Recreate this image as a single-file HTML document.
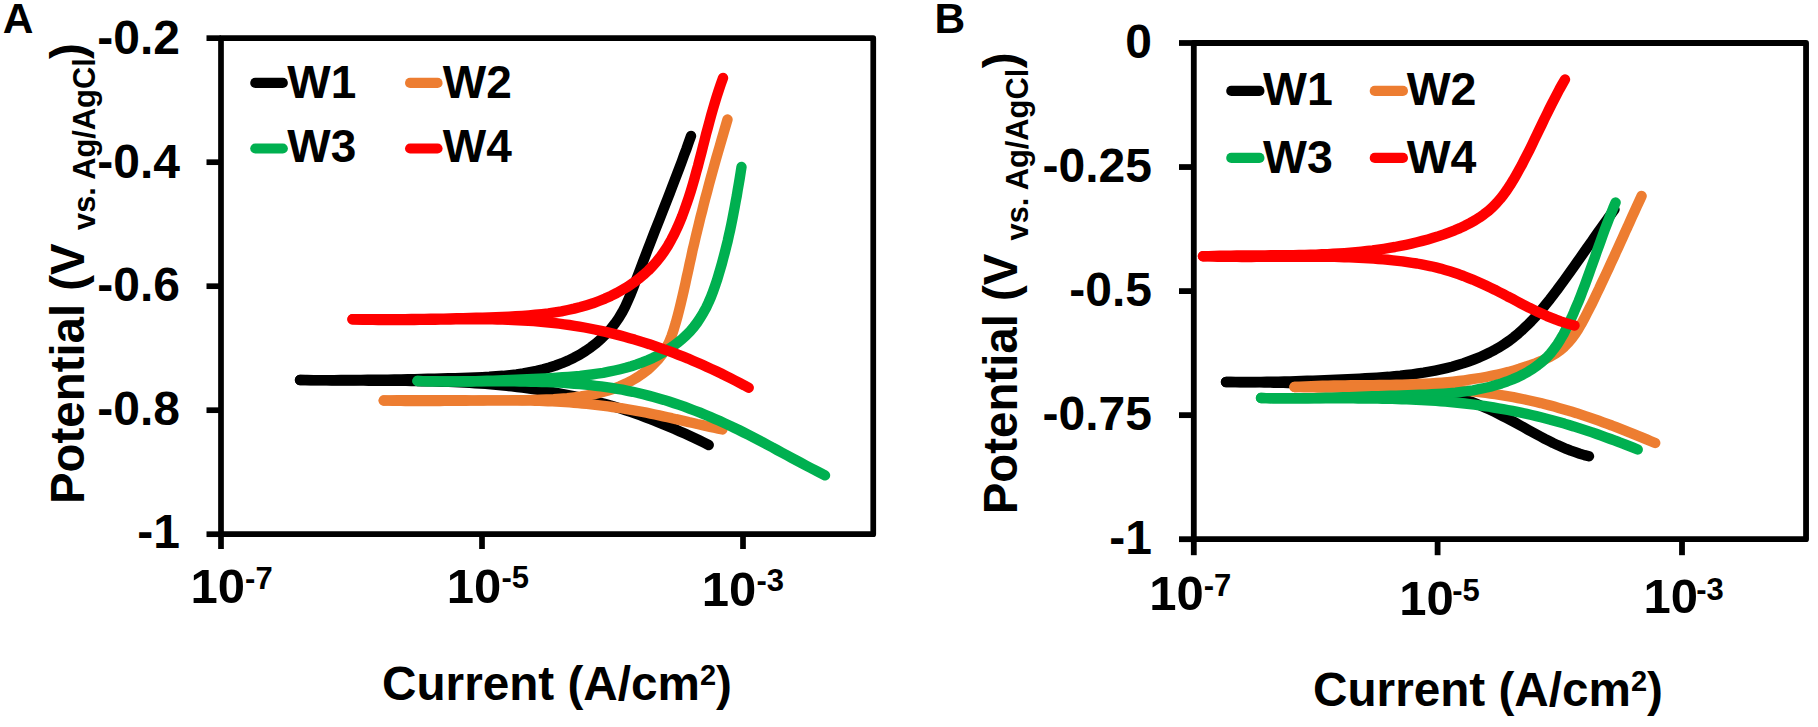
<!DOCTYPE html>
<html><head><meta charset="utf-8"><title>Potentiodynamic polarization curves</title>
<style>
html,body{margin:0;padding:0;background:#fff;}
body{width:1818px;height:727px;overflow:hidden;}
svg{display:block;}
svg text{font-family:"Liberation Sans",sans-serif;font-weight:bold;fill:#000;}
</style></head><body>
<svg width="1818" height="727" viewBox="0 0 1818 727">
<rect x="0" y="0" width="1818" height="727" fill="#ffffff"/>
<g id="panelA">
<rect x="221.00" y="38.15" width="652.25" height="496.05" fill="none" stroke="#000" stroke-width="5.70" stroke-linejoin="round"/>
<line x1="206.50" y1="38.15" x2="221.00" y2="38.15" stroke="#000" stroke-width="5.70"/>
<line x1="206.50" y1="162.20" x2="221.00" y2="162.20" stroke="#000" stroke-width="5.70"/>
<line x1="206.50" y1="286.20" x2="221.00" y2="286.20" stroke="#000" stroke-width="5.70"/>
<line x1="206.50" y1="410.20" x2="221.00" y2="410.20" stroke="#000" stroke-width="5.70"/>
<line x1="206.50" y1="534.20" x2="221.00" y2="534.20" stroke="#000" stroke-width="5.70"/>
<line x1="221.00" y1="534.20" x2="221.00" y2="549.00" stroke="#000" stroke-width="5.70"/>
<line x1="482.00" y1="534.20" x2="482.00" y2="549.00" stroke="#000" stroke-width="5.70"/>
<line x1="743.00" y1="534.20" x2="743.00" y2="549.00" stroke="#000" stroke-width="5.70"/>
<text x="180.00" y="54.20" font-size="48.00" text-anchor="end" >-0.2</text>
<text x="180.00" y="177.70" font-size="48.00" text-anchor="end" >-0.4</text>
<text x="180.00" y="301.20" font-size="48.00" text-anchor="end" >-0.6</text>
<text x="180.00" y="424.80" font-size="48.00" text-anchor="end" >-0.8</text>
<text x="180.00" y="548.30" font-size="48.00" text-anchor="end" >-1</text>
<text x="190.60" y="603.00" font-size="49.00">10<tspan x="245.10" y="588.70" font-size="31.00">-7</tspan></text>
<text x="446.70" y="602.50" font-size="49.00">10<tspan x="501.50" y="587.50" font-size="31.00">-5</tspan></text>
<text x="701.70" y="605.50" font-size="49.00">10<tspan x="756.50" y="591.00" font-size="31.00">-3</tspan></text>
<path d="M300.0 380.0 L306.9 380.0 L313.7 380.1 L320.6 380.1 L327.3 380.1 L334.1 380.1 L340.9 380.0 L347.6 380.0 L354.3 380.0 L361.0 379.9 L367.7 379.8 L374.4 379.8 L381.1 379.7 L387.8 379.6 L394.4 379.5 L401.1 379.4 L407.8 379.2 L414.5 379.1 L421.2 378.9 L427.9 378.8 L434.7 378.6 L441.4 378.5 L448.2 378.3 L455.0 378.1 L461.8 377.9 L468.7 377.7 L475.5 377.4 L482.4 377.1 L489.3 376.8 L496.1 376.3 L503.0 375.8 L509.8 375.1 L516.5 374.3 L523.2 373.3 L529.9 372.1 L536.5 370.8 L543.0 369.3 L549.4 367.5 L555.7 365.5 L561.9 363.2 L568.0 360.6 L574.0 357.7 L579.8 354.6 L585.5 351.0 L591.0 347.2 L596.3 343.1 L601.4 338.6 L606.2 333.9 L610.7 328.9 L614.9 323.6 L618.7 318.1 L622.2 312.3 L625.3 306.3 L628.1 300.1 L630.8 293.9 L633.3 287.5 L635.7 281.2 L638.1 274.9 L640.5 268.5 L642.9 262.2 L645.3 255.9 L647.7 249.5 L650.2 243.2 L652.6 236.9 L655.0 230.7 L657.5 224.4 L660.0 218.1 L662.4 211.8 L664.9 205.5 L667.3 199.3 L669.8 193.0 L672.2 186.7 L674.6 180.4 L677.0 174.1 L679.4 167.8 L681.8 161.5 L684.1 155.1 L686.5 148.8 L688.7 142.4 L691.0 136.0" fill="none" stroke="#000000" stroke-width="10.4" stroke-linecap="round" stroke-linejoin="round"/>
<path d="M300.0 380.0 L305.3 380.1 L310.6 380.2 L315.8 380.3 L321.1 380.4 L326.4 380.4 L331.7 380.5 L337.0 380.5 L342.3 380.5 L347.6 380.6 L352.9 380.6 L358.2 380.6 L363.5 380.6 L368.8 380.7 L374.1 380.7 L379.4 380.7 L384.8 380.7 L390.1 380.8 L395.4 380.8 L400.7 380.8 L406.0 380.9 L411.3 381.0 L416.6 381.1 L421.9 381.2 L427.3 381.3 L432.6 381.4 L437.9 381.5 L443.2 381.7 L448.5 381.9 L453.8 382.1 L459.1 382.3 L464.4 382.6 L469.7 382.9 L475.0 383.2 L480.3 383.6 L485.6 383.9 L490.8 384.4 L496.1 384.8 L501.4 385.3 L506.7 385.8 L511.9 386.4 L517.2 387.0 L522.4 387.6 L527.7 388.3 L532.9 389.0 L538.2 389.8 L543.4 390.6 L548.6 391.4 L553.8 392.3 L559.0 393.3 L564.2 394.3 L569.4 395.3 L574.6 396.4 L579.8 397.6 L584.9 398.8 L590.0 400.0 L595.2 401.3 L600.3 402.7 L605.4 404.1 L610.5 405.5 L615.5 407.0 L620.6 408.6 L625.6 410.2 L630.6 411.9 L635.6 413.7 L640.6 415.4 L645.6 417.3 L650.5 419.2 L655.5 421.1 L660.4 423.1 L665.3 425.1 L670.2 427.1 L675.1 429.2 L679.9 431.4 L684.8 433.6 L689.6 435.8 L694.4 438.0 L699.2 440.3 L704.0 442.7 L708.7 445.0" fill="none" stroke="#000000" stroke-width="10.4" stroke-linecap="round" stroke-linejoin="round"/>
<path d="M383.7 400.5 L390.7 400.4 L397.5 400.3 L404.4 400.2 L411.2 400.1 L418.0 400.1 L424.8 400.1 L431.6 400.1 L438.3 400.1 L445.0 400.2 L451.7 400.2 L458.5 400.3 L465.2 400.3 L471.9 400.4 L478.6 400.4 L485.3 400.4 L492.0 400.4 L498.8 400.4 L505.6 400.4 L512.3 400.3 L519.1 400.2 L526.0 400.1 L532.8 399.9 L539.7 399.7 L546.6 399.4 L553.5 399.1 L560.4 398.6 L567.3 398.1 L574.1 397.3 L580.9 396.4 L587.6 395.3 L594.3 394.1 L600.8 392.5 L607.3 390.7 L613.6 388.7 L619.8 386.3 L625.8 383.6 L631.7 380.6 L637.4 377.2 L642.9 373.5 L648.2 369.3 L653.2 364.7 L658.0 359.7 L662.3 354.3 L665.9 348.5 L669.0 342.5 L671.5 336.2 L673.6 329.8 L675.6 323.3 L677.4 316.8 L679.1 310.3 L680.7 303.7 L682.3 297.1 L683.8 290.5 L685.3 283.8 L686.7 277.2 L688.2 270.6 L689.6 263.9 L691.1 257.3 L692.5 250.6 L694.1 244.0 L695.6 237.4 L697.2 230.8 L698.8 224.2 L700.4 217.6 L702.1 211.1 L703.7 204.5 L705.4 197.9 L707.2 191.3 L708.9 184.8 L710.7 178.2 L712.5 171.7 L714.3 165.2 L716.1 158.6 L718.0 152.1 L719.9 145.6 L721.8 139.0 L723.7 132.5 L725.6 126.0 L727.5 119.5" fill="none" stroke="#ED7D31" stroke-width="10.4" stroke-linecap="round" stroke-linejoin="round"/>
<path d="M383.8 400.5 L388.1 400.6 L392.4 400.7 L396.7 400.8 L401.0 400.9 L405.3 401.0 L409.6 401.0 L414.0 401.0 L418.3 401.1 L422.6 401.1 L426.9 401.1 L431.2 401.0 L435.6 401.0 L439.9 401.0 L444.2 400.9 L448.6 400.9 L452.9 400.8 L457.2 400.8 L461.5 400.7 L465.9 400.7 L470.2 400.6 L474.5 400.6 L478.9 400.5 L483.2 400.5 L487.5 400.4 L491.8 400.4 L496.2 400.4 L500.5 400.4 L504.8 400.4 L509.2 400.4 L513.5 400.4 L517.8 400.4 L522.1 400.5 L526.4 400.5 L530.8 400.6 L535.1 400.7 L539.4 400.9 L543.7 401.0 L548.0 401.2 L552.3 401.4 L556.7 401.6 L561.0 401.8 L565.3 402.1 L569.6 402.4 L573.9 402.7 L578.2 403.1 L582.5 403.5 L586.7 403.9 L591.0 404.3 L595.3 404.8 L599.6 405.3 L603.9 405.8 L608.2 406.4 L612.4 407.0 L616.7 407.6 L621.0 408.2 L625.2 408.9 L629.5 409.6 L633.8 410.3 L638.0 411.1 L642.3 411.9 L646.5 412.7 L650.7 413.6 L655.0 414.5 L659.2 415.4 L663.4 416.3 L667.7 417.3 L671.9 418.2 L676.1 419.2 L680.3 420.1 L684.6 421.1 L688.8 422.1 L693.0 423.0 L697.2 424.0 L701.4 424.9 L705.6 425.9 L709.9 426.8 L714.1 427.7 L718.3 428.6 L722.5 429.5" fill="none" stroke="#ED7D31" stroke-width="10.4" stroke-linecap="round" stroke-linejoin="round"/>
<path d="M417.5 381.0 L423.4 381.1 L429.3 381.3 L435.1 381.3 L440.9 381.4 L446.7 381.4 L452.5 381.4 L458.3 381.4 L464.1 381.3 L469.9 381.2 L475.6 381.1 L481.4 381.0 L487.1 380.8 L492.9 380.7 L498.6 380.5 L504.4 380.3 L510.1 380.0 L515.9 379.8 L521.7 379.5 L527.5 379.3 L533.3 379.0 L539.1 378.7 L544.9 378.4 L550.8 378.1 L556.6 377.7 L562.5 377.3 L568.3 376.9 L574.2 376.4 L580.0 375.9 L585.8 375.2 L591.7 374.5 L597.4 373.7 L603.2 372.8 L608.9 371.7 L614.6 370.5 L620.2 369.2 L625.8 367.8 L631.3 366.2 L636.8 364.4 L642.2 362.4 L647.6 360.2 L652.8 357.9 L658.0 355.3 L663.1 352.5 L668.0 349.6 L672.8 346.4 L677.4 342.9 L681.9 339.3 L686.1 335.4 L690.1 331.3 L693.8 327.0 L697.2 322.5 L700.4 317.7 L703.3 312.8 L706.1 307.7 L708.6 302.4 L710.9 297.1 L713.0 291.6 L715.0 286.0 L716.9 280.4 L718.6 274.8 L720.3 269.1 L721.9 263.5 L723.4 257.8 L724.9 252.2 L726.3 246.6 L727.7 240.9 L728.9 235.3 L730.2 229.7 L731.4 224.0 L732.5 218.4 L733.6 212.7 L734.7 207.1 L735.7 201.4 L736.8 195.7 L737.7 190.0 L738.7 184.3 L739.7 178.5 L740.6 172.8 L741.5 167.0" fill="none" stroke="#00B050" stroke-width="10.4" stroke-linecap="round" stroke-linejoin="round"/>
<path d="M417.5 381.0 L422.8 381.1 L428.2 381.3 L433.5 381.3 L438.9 381.4 L444.2 381.5 L449.6 381.5 L455.0 381.5 L460.4 381.5 L465.8 381.5 L471.2 381.5 L476.6 381.4 L482.0 381.4 L487.5 381.4 L492.9 381.4 L498.3 381.4 L503.8 381.4 L509.2 381.4 L514.6 381.4 L520.1 381.5 L525.5 381.6 L531.0 381.7 L536.4 381.8 L541.8 382.0 L547.2 382.1 L552.7 382.4 L558.1 382.6 L563.5 382.9 L568.9 383.3 L574.3 383.7 L579.7 384.1 L585.0 384.6 L590.4 385.1 L595.8 385.8 L601.1 386.4 L606.4 387.2 L611.7 387.9 L617.0 388.8 L622.3 389.7 L627.6 390.8 L632.8 391.8 L638.1 393.0 L643.3 394.3 L648.5 395.6 L653.7 397.0 L658.8 398.4 L664.0 399.9 L669.1 401.5 L674.2 403.2 L679.3 404.9 L684.4 406.7 L689.4 408.6 L694.4 410.5 L699.5 412.4 L704.5 414.5 L709.4 416.5 L714.4 418.7 L719.3 420.8 L724.3 423.1 L729.2 425.4 L734.1 427.7 L738.9 430.0 L743.8 432.5 L748.6 434.9 L753.4 437.4 L758.2 439.9 L763.0 442.4 L767.8 445.0 L772.6 447.5 L777.3 450.1 L782.1 452.7 L786.9 455.3 L791.6 457.8 L796.4 460.4 L801.1 462.9 L805.9 465.5 L810.7 468.0 L815.4 470.4 L820.2 472.9 L825.0 475.3" fill="none" stroke="#00B050" stroke-width="10.4" stroke-linecap="round" stroke-linejoin="round"/>
<path d="M352.5 319.3 L359.1 319.3 L365.7 319.3 L372.3 319.3 L378.8 319.2 L385.4 319.2 L391.9 319.2 L398.4 319.1 L404.9 319.1 L411.4 319.0 L417.8 319.0 L424.3 318.9 L430.8 318.8 L437.2 318.7 L443.7 318.6 L450.2 318.4 L456.7 318.3 L463.2 318.1 L469.7 318.0 L476.2 317.8 L482.7 317.6 L489.3 317.4 L495.8 317.2 L502.4 316.9 L509.0 316.6 L515.6 316.3 L522.2 315.9 L528.8 315.4 L535.3 314.8 L541.9 314.1 L548.4 313.3 L554.9 312.3 L561.4 311.3 L567.8 310.0 L574.1 308.6 L580.4 307.0 L586.7 305.2 L592.9 303.3 L599.0 301.0 L605.0 298.6 L610.9 295.9 L616.7 293.0 L622.4 289.8 L628.0 286.5 L633.3 282.8 L638.5 278.9 L643.5 274.8 L648.3 270.5 L652.8 265.9 L657.0 261.1 L661.0 256.1 L664.7 250.8 L668.1 245.4 L671.3 239.7 L674.3 234.0 L677.1 228.1 L679.7 222.1 L682.2 216.0 L684.5 209.8 L686.7 203.6 L688.8 197.4 L690.8 191.1 L692.7 184.8 L694.5 178.5 L696.2 172.2 L698.0 165.8 L699.6 159.5 L701.3 153.2 L702.9 146.8 L704.5 140.5 L706.1 134.1 L707.8 127.8 L709.5 121.5 L711.2 115.2 L713.0 108.9 L714.8 102.7 L716.7 96.5 L718.7 90.3 L720.8 84.1 L723.0 78.0" fill="none" stroke="#FF0000" stroke-width="10.4" stroke-linecap="round" stroke-linejoin="round"/>
<path d="M352.5 319.3 L357.6 319.5 L362.8 319.7 L367.9 319.8 L373.0 319.9 L378.2 320.0 L383.3 320.1 L388.5 320.1 L393.7 320.1 L398.8 320.1 L404.0 320.1 L409.2 320.0 L414.4 320.0 L419.5 319.9 L424.7 319.8 L429.9 319.8 L435.1 319.7 L440.3 319.6 L445.5 319.5 L450.7 319.5 L455.9 319.4 L461.1 319.4 L466.2 319.3 L471.4 319.3 L476.6 319.3 L481.8 319.3 L487.0 319.4 L492.2 319.4 L497.3 319.5 L502.5 319.6 L507.7 319.8 L512.9 320.0 L518.0 320.2 L523.2 320.5 L528.3 320.8 L533.5 321.1 L538.6 321.5 L543.7 322.0 L548.9 322.5 L554.0 323.0 L559.1 323.6 L564.2 324.3 L569.3 325.0 L574.4 325.8 L579.4 326.6 L584.5 327.5 L589.6 328.5 L594.6 329.5 L599.7 330.6 L604.7 331.7 L609.7 332.9 L614.7 334.1 L619.7 335.4 L624.7 336.8 L629.6 338.2 L634.6 339.6 L639.5 341.1 L644.4 342.6 L649.4 344.2 L654.3 345.9 L659.1 347.6 L664.0 349.3 L668.9 351.1 L673.7 352.9 L678.5 354.8 L683.3 356.7 L688.1 358.6 L692.9 360.7 L697.7 362.7 L702.4 364.8 L707.1 366.9 L711.8 369.1 L716.5 371.3 L721.2 373.5 L725.8 375.8 L730.4 378.1 L735.0 380.5 L739.6 382.9 L744.2 385.3 L748.7 387.8" fill="none" stroke="#FF0000" stroke-width="10.4" stroke-linecap="round" stroke-linejoin="round"/>
<line x1="255.30" y1="82.90" x2="282.80" y2="82.90" stroke="#000000" stroke-width="10.20" stroke-linecap="round"/>
<text x="287.30" y="98.20" font-size="46.00" text-anchor="start" >W1</text>
<line x1="410.10" y1="82.90" x2="437.50" y2="82.90" stroke="#ED7D31" stroke-width="10.20" stroke-linecap="round"/>
<text x="442.80" y="98.20" font-size="46.00" text-anchor="start" >W2</text>
<line x1="255.30" y1="148.50" x2="282.80" y2="148.50" stroke="#00B050" stroke-width="10.20" stroke-linecap="round"/>
<text x="287.30" y="162.30" font-size="46.00" text-anchor="start" >W3</text>
<line x1="410.10" y1="148.50" x2="437.50" y2="148.50" stroke="#FF0000" stroke-width="10.20" stroke-linecap="round"/>
<text x="442.80" y="162.30" font-size="46.00" text-anchor="start" >W4</text>
<text x="382.00" y="700.00" font-size="47.70">Current (A/cm<tspan font-size="29.00" dy="-15.50">2</tspan><tspan dy="15.50">)</tspan></text>
<text transform="translate(84.00 0) rotate(-90)" font-size="47.40" xml:space="preserve"><tspan x="-504.00" y="0">Potential (V </tspan><tspan x="-230.00" y="11.20" font-size="30.80">vs. Ag/AgCl</tspan><tspan x="-59.00" y="0">)</tspan></text>
<text x="2.75" y="32.80" font-size="42.50" text-anchor="start" >A</text>
</g>
<g id="panelB">
<rect x="1193.80" y="43.00" width="612.25" height="496.20" fill="none" stroke="#000" stroke-width="5.80" stroke-linejoin="round"/>
<line x1="1179.00" y1="43.00" x2="1193.80" y2="43.00" stroke="#000" stroke-width="5.80"/>
<line x1="1179.00" y1="167.05" x2="1193.80" y2="167.05" stroke="#000" stroke-width="5.80"/>
<line x1="1179.00" y1="291.10" x2="1193.80" y2="291.10" stroke="#000" stroke-width="5.80"/>
<line x1="1179.00" y1="415.15" x2="1193.80" y2="415.15" stroke="#000" stroke-width="5.80"/>
<line x1="1179.00" y1="539.20" x2="1193.80" y2="539.20" stroke="#000" stroke-width="5.80"/>
<line x1="1193.80" y1="539.20" x2="1193.80" y2="555.20" stroke="#000" stroke-width="5.80"/>
<line x1="1437.60" y1="539.20" x2="1437.60" y2="555.20" stroke="#000" stroke-width="5.80"/>
<line x1="1682.00" y1="539.20" x2="1682.00" y2="555.20" stroke="#000" stroke-width="5.80"/>
<text x="1152.00" y="58.10" font-size="48.00" text-anchor="end" >0</text>
<text x="1152.00" y="182.20" font-size="48.00" text-anchor="end" >-0.25</text>
<text x="1152.00" y="306.30" font-size="48.00" text-anchor="end" >-0.5</text>
<text x="1152.00" y="430.30" font-size="48.00" text-anchor="end" >-0.75</text>
<text x="1152.00" y="554.40" font-size="48.00" text-anchor="end" >-1</text>
<text x="1149.20" y="610.20" font-size="49.00">10<tspan x="1203.80" y="596.20" font-size="31.00">-7</tspan></text>
<text x="1399.30" y="615.00" font-size="49.00">10<tspan x="1452.30" y="601.00" font-size="31.00">-5</tspan></text>
<text x="1643.50" y="612.90" font-size="49.00">10<tspan x="1696.20" y="599.50" font-size="31.00">-3</tspan></text>
<path d="M1226.0 382.0 L1231.9 382.0 L1237.8 382.0 L1243.6 382.0 L1249.5 382.0 L1255.3 382.0 L1261.1 381.9 L1266.9 381.8 L1272.7 381.7 L1278.5 381.6 L1284.2 381.5 L1290.0 381.4 L1295.8 381.2 L1301.5 381.0 L1307.3 380.8 L1313.1 380.7 L1318.9 380.4 L1324.6 380.2 L1330.4 380.0 L1336.2 379.7 L1342.0 379.5 L1347.8 379.2 L1353.6 378.9 L1359.5 378.6 L1365.3 378.3 L1371.2 378.0 L1377.0 377.6 L1382.9 377.2 L1388.7 376.8 L1394.6 376.2 L1400.4 375.7 L1406.3 375.0 L1412.1 374.3 L1417.9 373.5 L1423.6 372.7 L1429.4 371.7 L1435.1 370.6 L1440.8 369.4 L1446.4 368.1 L1452.0 366.7 L1457.6 365.1 L1463.1 363.4 L1468.5 361.5 L1473.9 359.5 L1479.3 357.4 L1484.5 355.0 L1489.7 352.5 L1494.8 349.8 L1499.8 347.0 L1504.6 343.9 L1509.4 340.6 L1514.0 337.1 L1518.4 333.4 L1522.7 329.6 L1526.9 325.6 L1531.0 321.5 L1535.0 317.2 L1538.9 312.8 L1542.6 308.4 L1546.3 303.8 L1550.0 299.2 L1553.5 294.6 L1557.1 289.9 L1560.5 285.2 L1564.0 280.5 L1567.4 275.8 L1570.8 271.0 L1574.2 266.3 L1577.5 261.6 L1580.9 256.8 L1584.2 252.1 L1587.5 247.3 L1590.9 242.6 L1594.2 237.8 L1597.5 233.1 L1600.9 228.4 L1604.3 223.6 L1607.6 218.9 L1611.1 214.2 L1614.5 209.5" fill="none" stroke="#000000" stroke-width="10.4" stroke-linecap="round" stroke-linejoin="round"/>
<path d="M1226.0 382.0 L1230.8 382.0 L1235.6 382.1 L1240.4 382.2 L1245.1 382.2 L1249.9 382.3 L1254.7 382.4 L1259.4 382.4 L1264.2 382.5 L1269.0 382.6 L1273.7 382.7 L1278.5 382.8 L1283.3 382.9 L1288.0 383.0 L1292.8 383.1 L1297.6 383.2 L1302.3 383.2 L1307.1 383.3 L1311.9 383.4 L1316.7 383.5 L1321.4 383.6 L1326.2 383.6 L1331.0 383.7 L1335.8 383.8 L1340.6 383.8 L1345.5 383.9 L1350.3 384.0 L1355.1 384.1 L1359.9 384.2 L1364.7 384.3 L1369.5 384.4 L1374.3 384.6 L1379.1 384.8 L1383.9 385.1 L1388.7 385.4 L1393.5 385.7 L1398.3 386.1 L1403.0 386.5 L1407.8 387.0 L1412.5 387.6 L1417.2 388.2 L1421.9 388.9 L1426.6 389.7 L1431.3 390.6 L1435.9 391.5 L1440.6 392.6 L1445.2 393.7 L1449.7 394.9 L1454.3 396.2 L1458.8 397.5 L1463.3 399.0 L1467.8 400.5 L1472.2 402.2 L1476.6 403.9 L1481.0 405.7 L1485.4 407.7 L1489.7 409.6 L1494.0 411.7 L1498.3 413.8 L1502.6 416.0 L1506.8 418.2 L1511.0 420.4 L1515.3 422.7 L1519.5 425.0 L1523.7 427.3 L1527.9 429.7 L1532.1 432.0 L1536.3 434.3 L1540.5 436.5 L1544.8 438.8 L1549.0 440.9 L1553.3 443.1 L1557.6 445.1 L1562.0 447.0 L1566.4 448.9 L1570.8 450.6 L1575.3 452.2 L1579.8 453.7 L1584.4 455.1 L1589.0 456.3" fill="none" stroke="#000000" stroke-width="10.4" stroke-linecap="round" stroke-linejoin="round"/>
<path d="M1294.5 387.0 L1300.1 386.7 L1305.7 386.4 L1311.3 386.2 L1316.9 386.0 L1322.5 385.8 L1328.1 385.7 L1333.8 385.5 L1339.5 385.5 L1345.1 385.4 L1350.8 385.3 L1356.5 385.3 L1362.2 385.2 L1367.9 385.1 L1373.6 385.1 L1379.3 385.0 L1385.0 385.0 L1390.7 384.9 L1396.4 384.7 L1402.1 384.6 L1407.8 384.4 L1413.5 384.2 L1419.2 384.0 L1424.8 383.7 L1430.5 383.4 L1436.2 383.0 L1441.8 382.6 L1447.5 382.1 L1453.1 381.6 L1458.7 381.0 L1464.3 380.3 L1469.9 379.5 L1475.5 378.7 L1481.0 377.8 L1486.6 376.8 L1492.1 375.7 L1497.6 374.5 L1503.1 373.2 L1508.5 371.9 L1513.9 370.4 L1519.3 368.8 L1524.7 367.0 L1530.1 365.2 L1535.4 363.3 L1540.7 361.2 L1545.8 358.9 L1550.9 356.3 L1555.7 353.5 L1560.2 350.3 L1564.4 346.7 L1568.3 342.7 L1571.9 338.4 L1575.2 333.9 L1578.3 329.1 L1581.2 324.2 L1584.0 319.1 L1586.6 314.0 L1589.2 308.9 L1591.8 303.8 L1594.3 298.7 L1596.7 293.6 L1599.2 288.5 L1601.6 283.3 L1604.0 278.2 L1606.4 273.1 L1608.8 268.0 L1611.1 262.9 L1613.5 257.8 L1615.8 252.6 L1618.2 247.5 L1620.5 242.4 L1622.8 237.3 L1625.1 232.1 L1627.5 227.0 L1629.8 221.8 L1632.1 216.7 L1634.5 211.5 L1636.8 206.4 L1639.2 201.2 L1641.6 196.0" fill="none" stroke="#ED7D31" stroke-width="10.4" stroke-linecap="round" stroke-linejoin="round"/>
<path d="M1294.5 387.0 L1299.1 387.1 L1303.8 387.2 L1308.4 387.3 L1313.1 387.4 L1317.7 387.5 L1322.4 387.5 L1327.0 387.6 L1331.7 387.6 L1336.4 387.6 L1341.0 387.6 L1345.7 387.6 L1350.4 387.6 L1355.1 387.6 L1359.8 387.6 L1364.5 387.6 L1369.1 387.6 L1373.8 387.6 L1378.5 387.6 L1383.2 387.6 L1387.9 387.6 L1392.6 387.7 L1397.3 387.7 L1402.0 387.8 L1406.6 387.8 L1411.3 387.9 L1416.0 388.0 L1420.7 388.1 L1425.4 388.3 L1430.0 388.5 L1434.7 388.7 L1439.4 388.9 L1444.0 389.1 L1448.7 389.4 L1453.4 389.7 L1458.0 390.0 L1462.7 390.4 L1467.3 390.8 L1471.9 391.3 L1476.6 391.8 L1481.2 392.3 L1485.8 392.9 L1490.4 393.5 L1495.0 394.1 L1499.6 394.8 L1504.2 395.6 L1508.8 396.4 L1513.4 397.2 L1517.9 398.1 L1522.5 399.0 L1527.1 400.0 L1531.6 401.0 L1536.1 402.0 L1540.7 403.1 L1545.2 404.3 L1549.7 405.4 L1554.2 406.6 L1558.7 407.9 L1563.2 409.2 L1567.6 410.5 L1572.1 411.8 L1576.6 413.2 L1581.0 414.7 L1585.4 416.1 L1589.9 417.6 L1594.3 419.1 L1598.7 420.7 L1603.1 422.3 L1607.5 423.9 L1611.9 425.5 L1616.2 427.2 L1620.6 428.9 L1625.0 430.6 L1629.3 432.3 L1633.7 434.1 L1638.0 435.8 L1642.3 437.6 L1646.6 439.4 L1650.9 441.2 L1655.2 443.0" fill="none" stroke="#ED7D31" stroke-width="10.4" stroke-linecap="round" stroke-linejoin="round"/>
<path d="M1261.0 398.0 L1267.0 398.1 L1273.0 398.2 L1278.9 398.3 L1284.8 398.3 L1290.7 398.3 L1296.6 398.3 L1302.5 398.3 L1308.3 398.2 L1314.2 398.1 L1320.0 398.0 L1325.9 397.8 L1331.7 397.7 L1337.5 397.5 L1343.3 397.3 L1349.2 397.1 L1355.0 397.0 L1360.8 396.8 L1366.7 396.5 L1372.5 396.3 L1378.4 396.1 L1384.3 395.9 L1390.1 395.7 L1396.1 395.6 L1402.0 395.4 L1407.9 395.2 L1413.9 395.0 L1419.8 394.8 L1425.8 394.6 L1431.8 394.3 L1437.7 394.0 L1443.7 393.6 L1449.6 393.1 L1455.5 392.6 L1461.4 391.9 L1467.2 391.2 L1473.1 390.3 L1478.8 389.2 L1484.6 388.0 L1490.3 386.7 L1495.9 385.1 L1501.5 383.4 L1507.0 381.5 L1512.4 379.4 L1517.8 377.1 L1523.0 374.5 L1528.1 371.7 L1533.0 368.6 L1537.7 365.2 L1542.2 361.6 L1546.5 357.7 L1550.4 353.5 L1554.0 348.9 L1557.4 344.2 L1560.5 339.2 L1563.5 334.1 L1566.2 328.8 L1568.8 323.5 L1571.4 318.0 L1573.8 312.6 L1576.1 307.1 L1578.4 301.7 L1580.6 296.2 L1582.7 290.7 L1584.8 285.1 L1586.8 279.6 L1588.8 274.1 L1590.8 268.5 L1592.8 263.0 L1594.8 257.5 L1596.7 251.9 L1598.7 246.4 L1600.7 240.9 L1602.7 235.3 L1604.7 229.8 L1606.8 224.3 L1608.9 218.9 L1611.1 213.4 L1613.3 207.9 L1615.6 202.5" fill="none" stroke="#00B050" stroke-width="10.4" stroke-linecap="round" stroke-linejoin="round"/>
<path d="M1261.0 398.0 L1265.8 398.1 L1270.7 398.2 L1275.5 398.3 L1280.3 398.3 L1285.2 398.4 L1290.0 398.4 L1294.9 398.4 L1299.7 398.4 L1304.6 398.4 L1309.4 398.4 L1314.3 398.4 L1319.2 398.4 L1324.0 398.4 L1328.9 398.4 L1333.8 398.4 L1338.6 398.4 L1343.5 398.4 L1348.4 398.4 L1353.2 398.4 L1358.1 398.5 L1363.0 398.5 L1367.8 398.5 L1372.7 398.6 L1377.6 398.6 L1382.4 398.7 L1387.3 398.8 L1392.2 398.9 L1397.0 399.0 L1401.9 399.2 L1406.8 399.4 L1411.6 399.5 L1416.5 399.8 L1421.3 400.0 L1426.2 400.3 L1431.0 400.6 L1435.9 400.9 L1440.7 401.2 L1445.5 401.6 L1450.4 402.1 L1455.2 402.5 L1460.0 403.0 L1464.8 403.5 L1469.6 404.1 L1474.4 404.7 L1479.2 405.3 L1484.0 406.0 L1488.8 406.7 L1493.6 407.5 L1498.4 408.3 L1503.1 409.1 L1507.9 410.0 L1512.6 410.9 L1517.4 411.9 L1522.1 412.9 L1526.8 413.9 L1531.6 415.0 L1536.3 416.1 L1541.0 417.3 L1545.7 418.5 L1550.4 419.7 L1555.0 421.0 L1559.7 422.3 L1564.4 423.6 L1569.0 425.0 L1573.7 426.4 L1578.3 427.9 L1582.9 429.4 L1587.5 430.9 L1592.2 432.4 L1596.8 434.0 L1601.3 435.6 L1605.9 437.3 L1610.5 439.0 L1615.1 440.6 L1619.6 442.4 L1624.2 444.1 L1628.7 445.9 L1633.2 447.7 L1637.7 449.5" fill="none" stroke="#00B050" stroke-width="10.4" stroke-linecap="round" stroke-linejoin="round"/>
<path d="M1203.0 256.3 L1208.6 256.1 L1214.2 255.9 L1219.8 255.8 L1225.4 255.7 L1231.0 255.6 L1236.7 255.5 L1242.3 255.5 L1248.0 255.4 L1253.6 255.4 L1259.3 255.4 L1265.0 255.4 L1270.6 255.3 L1276.3 255.3 L1282.0 255.2 L1287.7 255.2 L1293.4 255.1 L1299.1 255.0 L1304.8 254.9 L1310.5 254.7 L1316.1 254.6 L1321.8 254.3 L1327.5 254.1 L1333.2 253.8 L1338.8 253.5 L1344.5 253.1 L1350.1 252.7 L1355.8 252.2 L1361.4 251.6 L1367.0 251.0 L1372.6 250.4 L1378.2 249.6 L1383.8 248.8 L1389.4 247.9 L1394.9 247.0 L1400.5 245.9 L1406.0 244.8 L1411.5 243.6 L1417.0 242.3 L1422.4 240.9 L1427.9 239.4 L1433.3 237.8 L1438.7 236.1 L1444.0 234.3 L1449.4 232.3 L1454.7 230.3 L1459.9 228.1 L1465.0 225.7 L1470.0 223.1 L1474.9 220.4 L1479.6 217.4 L1484.1 214.2 L1488.5 210.8 L1492.6 207.1 L1496.5 203.1 L1500.2 198.9 L1503.7 194.5 L1507.0 189.9 L1510.1 185.2 L1513.1 180.3 L1516.0 175.3 L1518.8 170.3 L1521.6 165.3 L1524.2 160.2 L1526.8 155.2 L1529.4 150.1 L1531.9 145.0 L1534.3 139.9 L1536.8 134.8 L1539.2 129.7 L1541.7 124.6 L1544.1 119.5 L1546.6 114.5 L1549.1 109.4 L1551.6 104.4 L1554.2 99.3 L1556.8 94.3 L1559.4 89.4 L1562.2 84.4 L1565.0 79.5" fill="none" stroke="#FF0000" stroke-width="10.4" stroke-linecap="round" stroke-linejoin="round"/>
<path d="M1203.0 256.2 L1207.8 256.4 L1212.7 256.6 L1217.5 256.7 L1222.4 256.8 L1227.2 256.8 L1232.1 256.9 L1236.9 256.9 L1241.8 257.0 L1246.7 257.0 L1251.5 257.0 L1256.4 256.9 L1261.3 256.9 L1266.2 256.9 L1271.0 256.9 L1275.9 256.8 L1280.8 256.8 L1285.7 256.8 L1290.6 256.7 L1295.5 256.7 L1300.4 256.7 L1305.2 256.7 L1310.1 256.7 L1315.0 256.7 L1319.9 256.7 L1324.8 256.8 L1329.7 256.9 L1334.5 256.9 L1339.4 257.1 L1344.3 257.2 L1349.2 257.4 L1354.0 257.5 L1358.9 257.8 L1363.8 258.0 L1368.6 258.3 L1373.5 258.6 L1378.3 259.0 L1383.2 259.4 L1388.0 259.8 L1392.9 260.3 L1397.7 260.9 L1402.5 261.4 L1407.3 262.1 L1412.1 262.8 L1416.9 263.5 L1421.7 264.4 L1426.4 265.3 L1431.2 266.3 L1435.9 267.4 L1440.6 268.6 L1445.2 269.9 L1449.8 271.3 L1454.4 272.8 L1459.0 274.3 L1463.6 276.0 L1468.1 277.8 L1472.6 279.6 L1477.0 281.5 L1481.5 283.5 L1485.9 285.5 L1490.3 287.6 L1494.7 289.7 L1499.1 292.0 L1503.4 294.2 L1507.7 296.5 L1512.1 298.7 L1516.4 301.0 L1520.7 303.3 L1525.1 305.6 L1529.4 307.8 L1533.8 309.9 L1538.2 312.1 L1542.6 314.1 L1547.0 316.1 L1551.5 317.9 L1556.0 319.7 L1560.6 321.4 L1565.2 322.9 L1569.8 324.3 L1574.5 325.5" fill="none" stroke="#FF0000" stroke-width="10.4" stroke-linecap="round" stroke-linejoin="round"/>
<line x1="1231.30" y1="90.90" x2="1259.40" y2="90.90" stroke="#000000" stroke-width="10.20" stroke-linecap="round"/>
<text x="1263.10" y="105.40" font-size="46.50" text-anchor="start" >W1</text>
<line x1="1374.80" y1="90.90" x2="1402.90" y2="90.90" stroke="#ED7D31" stroke-width="10.20" stroke-linecap="round"/>
<text x="1406.70" y="105.40" font-size="46.50" text-anchor="start" >W2</text>
<line x1="1231.30" y1="157.90" x2="1259.40" y2="157.90" stroke="#00B050" stroke-width="10.20" stroke-linecap="round"/>
<text x="1263.10" y="172.70" font-size="46.50" text-anchor="start" >W3</text>
<line x1="1374.80" y1="157.90" x2="1402.90" y2="157.90" stroke="#FF0000" stroke-width="10.20" stroke-linecap="round"/>
<text x="1406.70" y="172.70" font-size="46.50" text-anchor="start" >W4</text>
<text x="1313.00" y="706.20" font-size="47.70">Current (A/cm<tspan font-size="29.00" dy="-15.50">2</tspan><tspan dy="15.50">)</tspan></text>
<text transform="translate(1016.50 0) rotate(-90)" font-size="47.40" xml:space="preserve"><tspan x="-514.30" y="0">Potential (V </tspan><tspan x="-240.50" y="11.20" font-size="30.80">vs. Ag/AgCl</tspan><tspan x="-68.20" y="0">)</tspan></text>
<text x="934.60" y="32.80" font-size="42.50" text-anchor="start" >B</text>
</g>
</svg>
</body></html>
